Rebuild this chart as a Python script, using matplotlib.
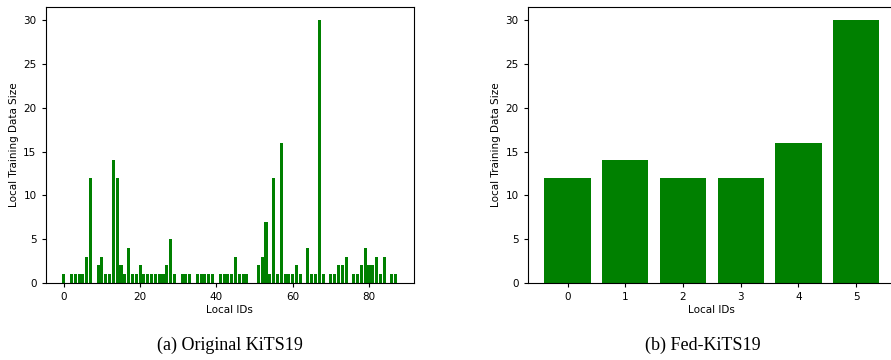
import numpy as np
import matplotlib
matplotlib.use("Agg")
import matplotlib.pyplot as plt

# local data sizes of the original KiTS19 clients (index = local id)
kits_sizes = [1, 0, 1, 1, 1, 1, 3, 12, 0, 2, 3, 1, 1, 14, 12, 2, 1, 4, 1, 1,
              2, 1, 1, 1, 1, 1, 1, 2, 5, 1, 0, 1, 1, 1, 0, 1, 1, 1, 1, 1,
              0, 1, 1, 1, 1, 3, 1, 1, 1, 0, 0, 2, 3, 7, 1, 12, 1, 16, 1, 1,
              1, 2, 1, 0, 4, 1, 1, 30, 1, 0, 1, 1, 2, 2, 3, 0, 1, 1, 2, 4,
              2, 2, 3, 1, 3, 0, 1, 1]
kits_ids = np.arange(len(kits_sizes))

# Fed-KiTS19 clients
fed_ids = [0, 1, 2, 3, 4, 5]
fed_sizes = [12, 14, 12, 12, 16, 30]

fig = plt.figure(figsize=(8.91, 3.6), dpi=100)
ax1 = fig.add_axes([45.5/891, 1-283/360, (414-45.5)/891, (283-7.3)/360])
ax2 = fig.add_axes([527.7/891, 1-283/360, (896-527.7)/891, (283-7.3)/360])

ax1.bar(kits_ids, kits_sizes, color='green')
ax2.bar(fed_ids, fed_sizes, color='green')

for ax in (ax1, ax2):
    ax.set_xlabel("Local IDs", fontsize=7.5, labelpad=2)
    ax.set_ylabel("Local Training Data Size", fontsize=7.5, labelpad=3)
    ax.tick_params(labelsize=7.5, length=3)
    ax.set_yticks([0, 5, 10, 15, 20, 25, 30])

ax1.set_xticks([0, 20, 40, 60, 80])
ax2.set_xticks(fed_ids)

fig.text(230/891, 1-345/360, "(a) Original KiTS19", ha='center', va='center',
         family='Liberation Serif', fontsize=13)
fig.text(703/891, 1-345/360, "(b) Fed-KiTS19", ha='center', va='center',
         family='Liberation Serif', fontsize=13)

fig.savefig("out.png", dpi=100)
